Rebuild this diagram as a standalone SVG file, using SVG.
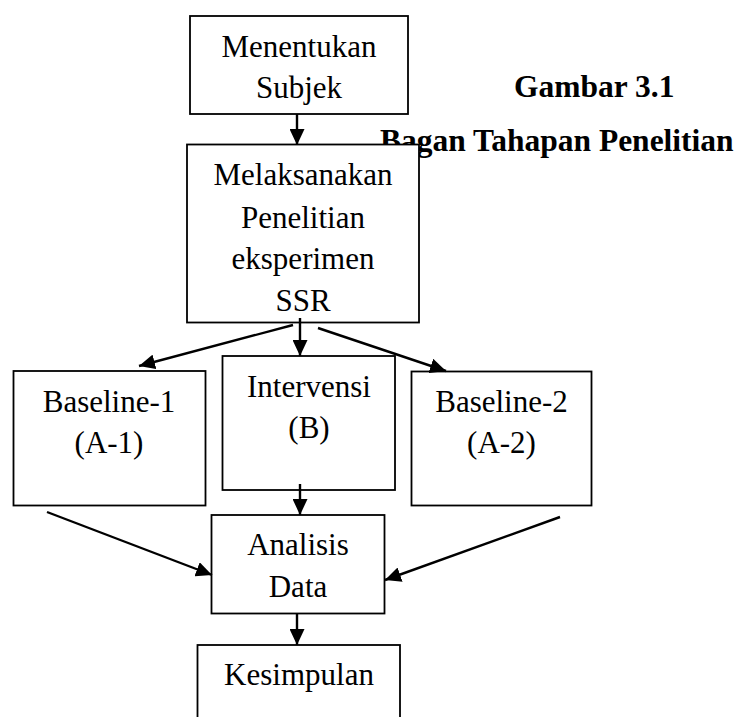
<svg xmlns="http://www.w3.org/2000/svg" width="740" height="717" viewBox="0 0 740 717">
<style>
.box{fill:#fff;stroke:#000;stroke-width:1.8}
.t{font-family:"Liberation Serif","Times New Roman",serif;font-size:31px;fill:#000;text-anchor:middle}
.title{font-family:"Liberation Serif","Times New Roman",serif;font-size:31.5px;font-weight:bold;fill:#000}
.c{stroke:#000;stroke-width:2.4;fill:none;marker-end:url(#ah)}
</style>
<defs>
<marker id="ah" markerUnits="userSpaceOnUse" markerWidth="16" markerHeight="15" refX="16" refY="7.5" orient="auto">
<path d="M0,0 L16,7.5 L0,15 z" fill="#000"/>
</marker>
</defs>
<rect width="740" height="717" fill="#fff"/>
<g id="title">
<text class="title" x="514" y="97">Gambar 3.1</text>
<text class="title" x="380" y="151">Bagan Tahapan Penelitian</text>
</g>
<g id="n1">
<rect class="box" x="190" y="16" width="218" height="98"/>
<text class="t" x="299" y="57">Menentukan</text>
<text class="t" x="299" y="98">Subjek</text>
</g>
<g id="n2">
<rect class="box" x="187" y="144.5" width="232" height="178"/>
<text class="t" x="303" y="185">Melaksanakan</text>
<text class="t" x="303" y="228">Penelitian</text>
<text class="t" x="303" y="269">eksperimen</text>
<text class="t" x="303" y="311">SSR</text>
</g>
<g id="n3">
<rect class="box" x="13.5" y="371" width="192" height="134.5"/>
<text class="t" x="109" y="412">Baseline-1</text>
<text class="t" x="109" y="453">(A-1)</text>
</g>
<g id="n4">
<rect class="box" x="222.5" y="356" width="172.5" height="134"/>
<text class="t" x="309" y="397">Intervensi</text>
<text class="t" x="309" y="438">(B)</text>
</g>
<g id="n5">
<rect class="box" x="411.5" y="371.5" width="180" height="134"/>
<text class="t" x="501.5" y="412">Baseline-2</text>
<text class="t" x="501.5" y="453">(A-2)</text>
</g>
<g id="n6">
<rect class="box" x="211.5" y="515" width="173" height="98.5"/>
<text class="t" x="298" y="555">Analisis</text>
<text class="t" x="298" y="597">Data</text>
</g>
<g id="n7">
<rect class="box" x="197.5" y="645" width="202.5" height="100"/>
<text class="t" x="299" y="685">Kesimpulan</text>
</g>
<g id="connectors">
<line class="c" x1="297" y1="114" x2="297" y2="145"/>
<line class="c" x1="293" y1="325" x2="139" y2="366"/>
<line class="c" x1="300" y1="318" x2="300" y2="356"/>
<line class="c" x1="318" y1="328" x2="446" y2="371"/>
<line class="c" x1="300" y1="484" x2="300" y2="515"/>
<line class="c" x1="47" y1="512" x2="212" y2="575"/>
<line class="c" x1="560" y1="517" x2="385" y2="580"/>
<line class="c" x1="297" y1="613" x2="297" y2="645"/>
</g>
</svg>
